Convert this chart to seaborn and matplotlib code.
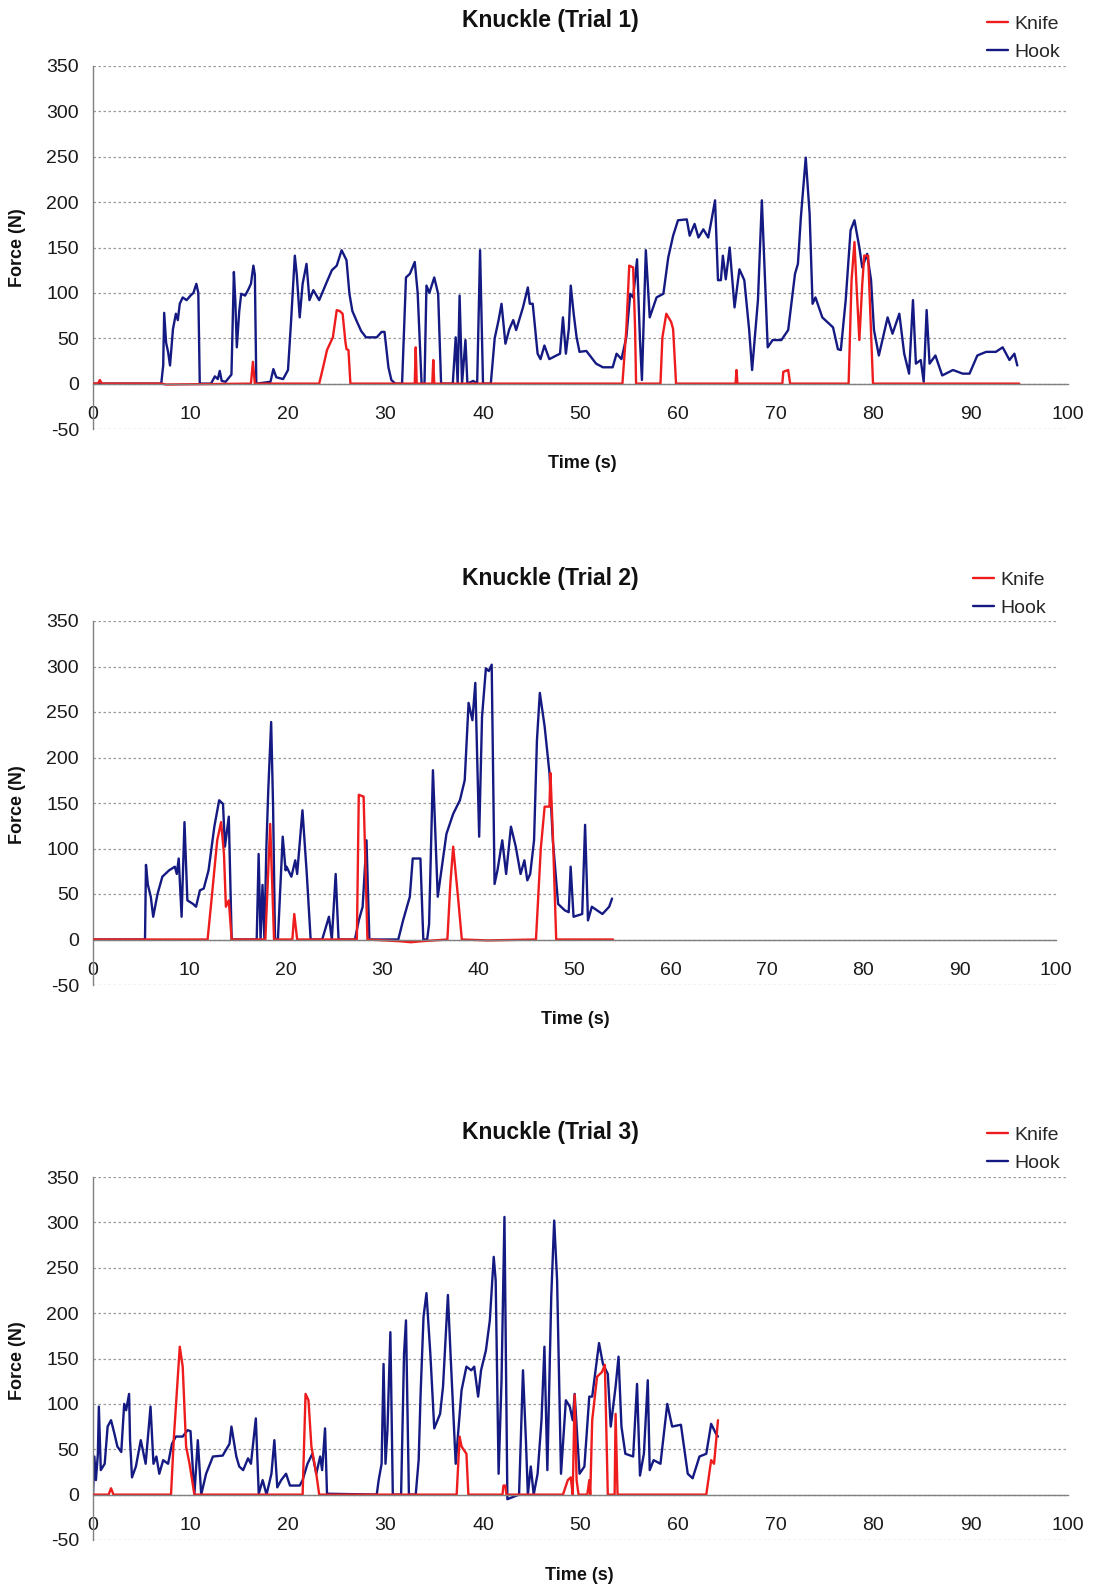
import numpy as np
import pandas as pd
import matplotlib
matplotlib.use("Agg")
import matplotlib.pyplot as plt
import seaborn as sns

# ---------------- data ----------------
trial_titles = ["Knuckle (Trial 1)", "Knuckle (Trial 2)", "Knuckle (Trial 3)"]
series_names = ["Knife", "Hook"]
x_ticks = [0, 10, 20, 30, 40, 50, 60, 70, 80, 90, 100]
y_ticks = [-50, 0, 50, 100, 150, 200, 250, 300, 350]

t1_hook_t = [0, 7.0, 7.2, 7.3, 7.5, 7.7, 7.9, 8.2, 8.5, 8.7, 8.9, 9.2, 9.6, 10.0, 10.3, 10.6, 10.8, 10.95,
             12.1, 12.5, 12.8, 13.0, 13.2, 13.6, 14.2, 14.45, 14.6, 14.75, 15.0, 15.2, 15.6, 15.9, 16.2, 16.45,
             16.6, 16.75, 18.2, 18.5, 18.8, 19.5, 20.0, 20.3, 20.7, 20.9, 21.2, 21.5, 21.9, 22.2, 22.6, 23.2,
             23.9, 24.5, 25.0, 25.5, 26.0, 26.3, 26.6, 27.0, 27.5, 28.0, 29.1, 29.6, 29.9, 30.3, 30.6, 31.0,
             31.7, 32.1, 32.5, 33.0, 33.3, 33.7, 34.0, 34.2, 34.5, 35.0, 35.4, 35.7, 36.9, 37.2, 37.4, 37.6,
             37.85, 38.2, 38.4, 39.0, 39.4, 39.7, 40.0, 40.8, 41.2, 41.6, 41.9, 42.3, 42.7, 43.1, 43.4, 44.1,
             44.6, 44.8, 45.1, 45.6, 45.9, 46.3, 46.8, 47.9, 48.2, 48.5, 48.8, 49.0, 49.3, 49.6, 49.9, 50.6,
             51.6, 52.3, 53.3, 53.7, 54.2, 54.7, 55.1, 55.4, 55.8, 56.1, 56.3, 56.7, 57.1, 57.8, 58.5, 59.0,
             59.5, 60.0, 60.9, 61.2, 61.7, 62.1, 62.6, 63.1, 63.4, 63.8, 64.1, 64.4, 64.6, 64.9, 65.3, 65.8,
             66.3, 66.8, 67.3, 67.6, 68.2, 68.6, 69.2, 69.7, 70.6, 71.3, 72.0, 72.3, 72.6, 73.1, 73.5, 73.8,
             74.1, 74.8, 75.9, 76.4, 76.7, 77.2, 77.7, 78.1, 78.6, 78.9, 79.4, 79.8, 80.1, 80.6, 81.5, 82.0,
             82.7, 83.2, 83.7, 84.1, 84.4, 84.9, 85.2, 85.5, 85.8, 86.4, 87.1, 88.2, 89.2, 89.9, 90.7, 91.6,
             92.6, 93.3, 94.0, 94.5, 94.8]
t1_hook_f = [0, 0, 20, 78, 45, 35, 20, 60, 77, 70, 88, 95, 92, 97, 100, 110, 100, 0,
             0, 8, 5, 14, 3, 2, 10, 123, 90, 40, 80, 99, 97, 103, 110, 130,
             120, 0, 2, 16, 7, 5, 15, 66, 141, 120, 73, 110, 132, 92, 103, 92,
             110, 125, 130, 147, 136, 99, 80, 70, 58, 51, 51, 57, 57, 18, 4, 0,
             0, 117, 121, 134, 100, 0, 0, 108, 100, 117, 99, 0, 0, 51, 0, 97,
             0, 48, 0, 3, 0, 147, 0, 0, 50, 70, 88, 44, 60, 70, 59, 84,
             106, 88, 88, 33, 27, 42, 27, 33, 73, 33, 60, 108, 77, 51, 35, 36,
             22, 18, 18, 33, 27, 51, 99, 95, 137, 48, 4, 147, 73, 95, 99, 139,
             163, 180, 181, 163, 176, 161, 170, 161, 178, 202, 114, 114, 141, 115, 150, 84,
             126, 114, 59, 15, 92, 202, 40, 48, 48, 59, 121, 132, 183, 249, 187, 88,
             95, 73, 62, 38, 37, 92, 169, 180, 150, 128, 143, 114, 59, 31, 73, 55,
             77, 33, 11, 92, 22, 26, 2, 81, 22, 31, 9, 15, 11, 11, 31, 35,
             35, 40, 26, 33, 20]

t1_knife_t = [0, 0.5, 0.7, 0.9, 7.0, 7.5, 16.2, 16.4, 16.6, 23.2, 23.6, 24.0, 24.6, 25.0, 25.3, 25.6, 25.9,
              26.0, 26.2, 26.4, 33.0, 33.1, 33.2, 34.8, 34.9, 35.0, 54.3, 54.7, 55.0, 55.4, 55.6, 55.7,
              58.2, 58.4, 58.8, 59.3, 59.5, 59.8, 65.9, 66.0, 66.1, 70.7, 70.8, 71.3, 71.5, 77.5, 77.8,
              78.1, 78.3, 78.6, 78.9, 79.1, 79.5, 80.0, 95.0]
t1_knife_f = [0, 0, 4, 0, 0, -1, 0, 24, 0, 0, 18, 37, 51, 81, 80, 77, 45,
              38, 37, 0, 0, 40, 0, 0, 26, 0, 0, 60, 130, 128, 60, 0,
              0, 51, 77, 68, 60, 0, 0, 15, 0, 0, 13, 15, 0, 0, 114,
              156, 110, 48, 110, 141, 141, 0, 0]

t2_hook_t = [0, 5.4, 5.5, 5.7, 6.0, 6.25, 6.7, 7.2, 7.9, 8.5, 8.7, 8.9, 9.2, 9.5, 9.8, 10.4, 10.7, 11.1,
             11.5, 12.0, 12.6, 13.1, 13.5, 13.7, 14.1, 14.4, 17.0, 17.2, 17.4, 17.6, 17.8, 18.0, 18.2, 18.5,
             18.7, 18.9, 19.2, 19.7, 20.0, 20.1, 20.6, 21.0, 21.2, 21.75, 22.2, 22.6, 23.8, 24.5, 24.8,
             25.2, 25.5, 27.2, 27.6, 28.0, 28.4, 28.7, 31.7, 32.2, 32.9, 33.2, 34.0, 34.3, 34.7, 34.9,
             35.3, 35.8, 36.7, 37.4, 38.1, 38.6, 39.0, 39.4, 39.7, 40.1, 40.4, 40.8, 41.1, 41.4, 41.7,
             42.0, 42.5, 42.9, 43.4, 43.9, 44.4, 44.8, 45.1, 45.4, 45.8, 46.1, 46.4, 46.9, 47.4, 47.75,
             48.3, 49.0, 49.4, 49.6, 49.9, 50.8, 51.1, 51.4, 51.8, 52.9, 53.6, 53.9]
t2_hook_f = [0, 0, 82, 60, 47, 25, 50, 69, 76, 80, 72, 89, 25, 129, 43, 39, 36, 54,
             56, 76, 124, 153, 149, 102, 135, 0, 0, 94, 0, 60, 0, 100, 164, 239,
             146, 0, 0, 113, 76, 80, 69, 87, 72, 142, 72, 0, 0, 25, 0,
             72, 0, 0, 21, 36, 109, 0, 0, 21, 47, 89, 89, 0, 0, 17,
             186, 47, 116, 138, 153, 175, 260, 241, 282, 113, 245, 298, 295, 302, 61,
             76, 109, 72, 124, 102, 72, 87, 65, 72, 109, 219, 271, 234, 183, 109,
             39, 32, 30, 80, 25, 28, 126, 21, 36, 28, 36, 45]

t2_knife_t = [0, 11.9, 12.3, 12.9, 13.3, 13.6, 13.8, 14.1, 14.4, 17.9, 18.4, 18.8, 20.7, 20.9, 21.2,
              27.4, 27.6, 28.1, 28.5, 32.0, 33.0, 34.0, 36.8, 37.1, 37.4, 37.9, 38.3, 41.0, 46.0, 46.5,
              46.9, 47.4, 47.5, 47.75, 48.1, 54.0]
t2_knife_f = [0, 0, 43, 109, 129, 94, 36, 43, 0, 0, 127, 0, 0, 28, 0,
              0, 159, 157, 0, -2, -3, -2, 0, 60, 102, 47, 0, -1, 0, 100,
              146, 146, 183, 116, 0, 0]

t3_hook_t = [0, 0.14, 0.3, 0.5, 0.6, 0.8, 1.2, 1.5, 1.85, 2.2, 2.5, 2.9, 3.2, 3.4, 3.7, 3.8, 4.0, 4.4,
             4.9, 5.4, 5.9, 6.2, 6.5, 6.8, 7.2, 7.7, 8.1, 8.5, 9.2, 9.7, 10.0, 10.4, 10.75, 11.1, 11.6,
             12.3, 13.3, 14.0, 14.2, 14.7, 15.0, 15.4, 15.9, 16.2, 16.7, 17.0, 17.4, 17.8, 18.3, 18.6,
             18.9, 19.3, 19.8, 20.2, 21.2, 21.5, 22.0, 22.5, 22.9, 23.3, 23.5, 23.8, 24.0, 29.1, 29.3,
             29.6, 29.8, 30.0, 30.2, 30.5, 30.75, 31.6, 31.9, 32.1, 32.4, 33.1, 33.4, 33.6, 33.9, 34.2,
             34.6, 35.0, 35.6, 35.9, 36.4, 36.7, 37.2, 37.8, 38.3, 38.8, 39.1, 39.5, 39.8, 40.3, 40.7,
             41.1, 41.3, 41.6, 41.9, 42.2, 42.5, 43.7, 44.1, 44.4, 44.6, 44.9, 45.2, 45.6, 46.0, 46.3,
             46.6, 47.0, 47.3, 47.6, 48.0, 48.5, 48.9, 49.2, 49.4, 49.9, 50.4, 50.9, 51.2, 51.9, 52.3,
             52.8, 53.1, 53.6, 53.9, 54.2, 54.6, 55.4, 55.8, 56.1, 56.5, 56.9, 57.1, 57.5, 58.2, 58.9,
             59.4, 60.3, 61.0, 61.5, 62.2, 62.9, 63.4, 63.9, 64.1]
t3_hook_f = [0, 42, 16, 45, 97, 27, 34, 75, 82, 67, 53, 47, 100, 93, 111, 60, 19, 31,
             60, 34, 97, 34, 42, 23, 38, 34, 56, 64, 64, 71, 70, 0, 60, 0, 23,
             42, 43, 56, 75, 42, 31, 27, 40, 34, 84, 1, 16, 0, 23, 60,
             8, 16, 23, 10, 10, 16, 34, 45, 23, 42, 27, 73, 1, 0, 16,
             34, 144, 34, 71, 179, 0, 0, 155, 192, 0, 0, 38, 111, 196, 222,
             155, 73, 89, 119, 220, 148, 34, 115, 141, 137, 141, 108, 137, 159, 192,
             262, 236, 23, 126, 306, -5, 0, 137, 60, 0, 31, 0, 23, 82, 163,
             27, 218, 302, 236, 23, 104, 97, 82, 111, 23, 31, 108, 108, 167, 144,
             133, 75, 119, 152, 75, 45, 42, 122, 21, 45, 126, 27, 38, 34, 100,
             75, 77, 23, 18, 42, 45, 78, 67, 64]

t3_knife_t = [0, 1.6, 1.85, 2.1, 8.0, 8.3, 8.9, 9.2, 9.55, 9.9, 10.4, 21.5, 21.8, 22.1, 22.4, 22.9, 23.2,
              37.3, 37.6, 37.8, 38.3, 38.5, 42.0, 42.1, 42.3, 42.4, 48.2, 48.7, 49.0, 49.2, 49.4, 49.6,
              49.8, 50.7, 50.9, 51.0, 51.2, 51.7, 52.2, 52.5, 52.8, 53.5, 53.6, 53.8, 62.9, 63.4, 63.7, 64.1]
t3_knife_f = [0, 0, 7, 0, 0, 64, 163, 141, 53, 34, 0, 0, 111, 104, 53, 23, 0,
              0, 64, 53, 45, 0, 0, 10, 10, 0, 0, 16, 19, 0, 110, 16,
              0, 0, 16, 0, 82, 130, 135, 143, 0, 0, 89, 0, 0, 38, 34, 82]

trials = [
    (t1_knife_t, t1_knife_f, t1_hook_t, t1_hook_f),
    (t2_knife_t, t2_knife_f, t2_hook_t, t2_hook_f),
    (t3_knife_t, t3_knife_f, t3_hook_t, t3_hook_f),
]

# ---------------- style ----------------
sns.set_style("white")
plt.rcParams['font.family'] = ['Liberation Sans', 'DejaVu Sans']
plt.rcParams['axes.unicode_minus'] = False

W, H = 1093, 1587
fig = plt.figure(figsize=(W / 100, H / 100), dpi=100)

# axes boxes in pixels: (left, right, top(350), bottom(-50))
boxes = [(93, 1068, 66, 429), (93, 1056, 621, 985), (93, 1068, 1177, 1540)]
title_pos = [(550, 21), (550, 578), (550, 1132)]
xlabel_pos = [(582, 464), (575, 1019), (579, 1575)]
ylabel_pos = [(18, 248), (18, 805), (18, 1361)]
legend_pos = [(987, 15), (973, 571), (987, 1126)]

KNIFE = "#ee1c1c"
HOOK = "#141a82"
GRID = "#9a9a9a"

for i, (kt, kf, ht, hf) in enumerate(trials):
    l, r, tp, bt = boxes[i]
    ax = fig.add_axes([l / W, 1 - bt / H, (r - l) / W, (bt - tp) / H])
    df_k = pd.DataFrame({"Time": kt, "Force": kf})
    df_h = pd.DataFrame({"Time": ht, "Force": hf})
    sns.lineplot(data=df_k, x="Time", y="Force", ax=ax, color=KNIFE, lw=1.7,
                 estimator=None, sort=False, label=series_names[0], zorder=3)
    sns.lineplot(data=df_h, x="Time", y="Force", ax=ax, color=HOOK, lw=1.7,
                 estimator=None, sort=False, label=series_names[1], zorder=2)
    ax.set_xlim(0, 100)
    ax.set_ylim(-50, 350)
    ax.set_xticks(x_ticks)
    ax.set_yticks(y_ticks)
    ax.set_xlabel("")
    ax.set_ylabel("")
    for yv in y_ticks:
        ax.axhline(yv, color=GRID, lw=0.9, ls=(0, (2, 2)), zorder=1)
    for s in ["top", "right"]:
        ax.spines[s].set_visible(False)
    ax.spines["left"].set_color("#808080")
    ax.spines["left"].set_linewidth(1.0)
    ax.spines["bottom"].set_position(("data", 0))
    ax.spines["bottom"].set_color("#808080")
    ax.spines["bottom"].set_linewidth(1.0)
    ax.spines["bottom"].set_zorder(4)
    ax.tick_params(axis="x", direction="out", length=4, width=1, color="#808080",
                   pad=12, labelsize=14, labelcolor="#1a1a1a")
    ax.tick_params(axis="y", direction="out", length=5, width=1, color="#808080",
                   pad=5, labelsize=14, labelcolor="#1a1a1a")
    ax.set_facecolor("white")
    lx, ly = legend_pos[i]
    ax.legend(loc="upper left", bbox_to_anchor=(lx / W, 1 - ly / H),
              bbox_transform=fig.transFigure, frameon=False, fontsize=14,
              handlelength=1.1, handletextpad=0.3, labelspacing=0.55,
              borderpad=0, borderaxespad=0)
    tx, ty = title_pos[i]
    fig.text(tx / W, 1 - ty / H, trial_titles[i], ha="center", va="center",
             fontsize=16.5, fontweight="bold", color="#111111")
    xx, xy = xlabel_pos[i]
    fig.text(xx / W, 1 - xy / H, "Time (s)", ha="center", va="center",
             fontsize=13, fontweight="bold", color="#111111")
    yx, yy = ylabel_pos[i]
    fig.text(yx / W, 1 - yy / H, "Force (N)", ha="center", va="center",
             rotation=90, fontsize=13, fontweight="bold", color="#111111")

fig.savefig("out.png", dpi=100, facecolor="white")
